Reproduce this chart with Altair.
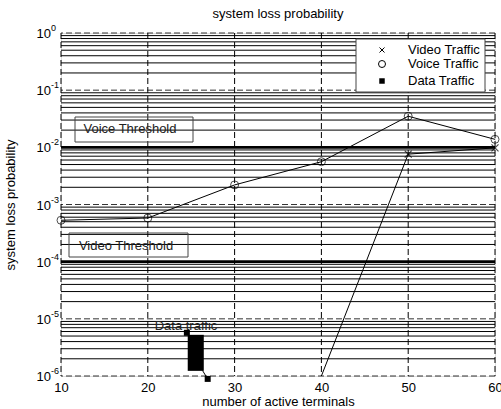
import altair as alt
import pandas as pd

FONT = "Liberation Sans"

# ---- data ----
terminals = [10, 20, 30, 40, 50, 60]
voice_loss = [5.3e-4, 5.8e-4, 2.2e-3, 5.6e-3, 3.5e-2, 1.38e-2]
video_terminals = [40, 50, 60]
video_loss = [1.0e-6, 7.6e-3, 9.8e-3]
video_marker_terminals = [50, 60]
video_marker_loss = [7.6e-3, 9.8e-3]
data_block_x = [24.6, 26.45]
data_block_y = [1.23e-6, 5.25e-6]
data_marker_x = [24.5, 26.9]
data_marker_y = [5.7e-6, 8.9e-7]
data_tail_x = [26.3, 26.9]
data_tail_y = [1.25e-6, 8.9e-7]
data_label = ["Data traffic"]
data_label_x = [24.4]
data_label_y = [7.5e-6]
thresholds = [1e-2, 1e-4]
threshold_labels = ["Voice Threshold", "Video Threshold"]
x_ticks = [10, 20, 30, 40, 50, 60]
y_exponents = [0, -1, -2, -3, -4, -5, -6]
legend_labels = ["Video Traffic", "Voice Traffic", "Data Traffic"]

W, H = 434, 343

xs = alt.Scale(domain=[10, 60], nice=False, zero=False)
ys = alt.Scale(type="log", domain=[1e-6, 1], nice=False)

x_axis = alt.Axis(values=x_ticks, format="d", labelFont=FONT, labelFontSize=13,
                  labelColor="black", ticks=False, domain=False, grid=False,
                  labelPadding=5, labelOverlap=False, labelFlush=False,
                  title="number of active terminals", titleFont=FONT,
                  titleFontSize=13, titleFontWeight="normal", titleColor="black",
                  titlePadding=1)
y_axis = alt.Axis(labels=False, ticks=False, domain=False, grid=False,
                  title="system loss probability", titleFont=FONT, titleFontSize=13,
                  titleFontWeight="normal", titleColor="black", titlePadding=44)


def X(field):
    return alt.X(field, type="quantitative", scale=xs, axis=x_axis)


def Y(field):
    return alt.Y(field, type="quantitative", scale=ys, axis=y_axis)


decades = [10.0 ** e for e in y_exponents]
minor = [m * 10.0 ** e for e in range(-6, 0) for m in range(2, 10)]

vgrid = alt.Chart(pd.DataFrame({"x": x_ticks})).mark_rule(
    color="black", strokeWidth=1, strokeDash=[6, 3]).encode(x=X("x"))
hmajor = alt.Chart(pd.DataFrame({"y": decades})).mark_rule(
    color="#333", strokeWidth=1, strokeDash=[6, 3]).encode(y=Y("y"))
hminor = alt.Chart(pd.DataFrame({"y": minor})).mark_rule(
    color="black", strokeWidth=1).encode(y=Y("y"))
thr = alt.Chart(pd.DataFrame({"y": thresholds})).mark_rule(
    color="black", strokeWidth=2.6).encode(y=Y("y"))

# threshold label boxes
voice_box = alt.Chart(pd.DataFrame({"t": [threshold_labels[0]]})).mark_rect(
    fill=None, stroke="#444", strokeWidth=1).encode(
    x=alt.value(14), x2=alt.value(132), y=alt.value(84), y2=alt.value(109))
voice_txt = alt.Chart(pd.DataFrame({"t": [threshold_labels[0]]})).mark_text(
    font=FONT, fontSize=13, color="#222", align="center", baseline="middle").encode(
    x=alt.value(69), y=alt.value(96), text="t:N")
video_box = alt.Chart(pd.DataFrame({"t": [threshold_labels[1]]})).mark_rect(
    fill=None, stroke="#444", strokeWidth=1).encode(
    x=alt.value(8), x2=alt.value(127), y=alt.value(200), y2=alt.value(224))
video_txt = alt.Chart(pd.DataFrame({"t": [threshold_labels[1]]})).mark_text(
    font=FONT, fontSize=13, color="#222", align="center", baseline="middle").encode(
    x=alt.value(65), y=alt.value(213), text="t:N")

# series
voice_df = pd.DataFrame({"x": terminals, "y": voice_loss})
voice_line = alt.Chart(voice_df).mark_line(color="black", strokeWidth=1).encode(
    x=X("x"), y=Y("y"))
voice_pts = alt.Chart(voice_df).mark_point(
    shape="circle", size=64, color="black", strokeWidth=1, filled=False).encode(
    x=X("x"), y=Y("y"))

video_df = pd.DataFrame({"x": video_terminals, "y": video_loss})
video_line = alt.Chart(video_df).mark_line(color="black", strokeWidth=1).encode(
    x=X("x"), y=Y("y"))
xshape = "M-1,-1L1,1M-1,1L1,-1"
video_pts = alt.Chart(pd.DataFrame({"x": video_marker_terminals, "y": video_marker_loss})).mark_point(
    shape=xshape, size=49, color="black", strokeWidth=1.2, filled=False).encode(
    x=X("x"), y=Y("y"))

data_block = alt.Chart(pd.DataFrame({
    "x": [data_block_x[0]], "x2": [data_block_x[1]],
    "y": [data_block_y[0]], "y2": [data_block_y[1]]})).mark_rect(color="black").encode(
    x=X("x"), x2="x2", y=Y("y"), y2="y2")
data_tail = alt.Chart(pd.DataFrame({"x": data_tail_x, "y": data_tail_y})).mark_line(
    color="black", strokeWidth=1).encode(x=X("x"), y=Y("y"))
data_pts = alt.Chart(pd.DataFrame({"x": data_marker_x, "y": data_marker_y})).mark_point(
    shape="square", size=36, color="black", filled=True, opacity=1).encode(
    x=X("x"), y=Y("y"))
data_txt = alt.Chart(pd.DataFrame({"x": data_label_x, "y": data_label_y, "t": data_label})).mark_text(
    font=FONT, fontSize=13, color="#222", align="center", baseline="middle").encode(
    x=X("x"), y=Y("y"), text="t:N")

# y tick labels: 10 with superscript exponent
ylab_df = pd.DataFrame({"y": decades,
                        "base": ["10"] * len(decades),
                        "exp": [str(e) for e in y_exponents]})
ylab_base = alt.Chart(ylab_df).mark_text(
    font=FONT, fontSize=13, color="black", align="right", baseline="middle", dy=1).encode(
    x=alt.value(-10), y=Y("y"), text="base:N")
ylab_exp = alt.Chart(ylab_df).mark_text(
    font=FONT, fontSize=9, color="black", align="left", baseline="middle", dy=-5).encode(
    x=alt.value(-10), y=Y("y"), text="exp:N")

# legend
legend_layers = [alt.Chart(pd.DataFrame({"t": ["legend"]})).mark_rect(
    fill="white", stroke="#444", strokeWidth=1).encode(
    x=alt.value(295), x2=alt.value(424), y=alt.value(6), y2=alt.value(59))]
leg_rows = [17, 31, 48]
leg_shapes = [(xshape, 25, False), ("circle", 49, False), ("square", 30, True)]
for lab, ry, (shp, sz, fil) in zip(legend_labels, leg_rows, leg_shapes):
    d = pd.DataFrame({"t": [lab]})
    legend_layers.append(alt.Chart(d).mark_point(
        shape=shp, size=sz, color="black", filled=fil, strokeWidth=1, opacity=1).encode(
        x=alt.value(321), y=alt.value(ry)))
    legend_layers.append(alt.Chart(d).mark_text(
        font=FONT, fontSize=13, color="black", align="left", baseline="middle").encode(
        x=alt.value(347), y=alt.value(ry), text="t:N"))

chart = alt.layer(
    hminor, hmajor, vgrid, thr,
    voice_box, voice_txt, video_box, video_txt,
    voice_line, voice_pts, video_line, video_pts,
    data_block, data_tail, data_pts, data_txt,
    ylab_base, ylab_exp,
    *legend_layers,
).properties(
    width=W, height=H,
    title=alt.TitleParams("system loss probability", font=FONT, fontSize=13,
                          fontWeight="normal", color="black", anchor="middle",
                          offset=3),
    padding={"left": 61, "top": 33, "right": 6, "bottom": 33},
    autosize=alt.AutoSizeParams(type="none"),
).configure_view(stroke=None).configure(background="white")

chart.save("out.html", embed_options={"renderer": "svg", "actions": False})
